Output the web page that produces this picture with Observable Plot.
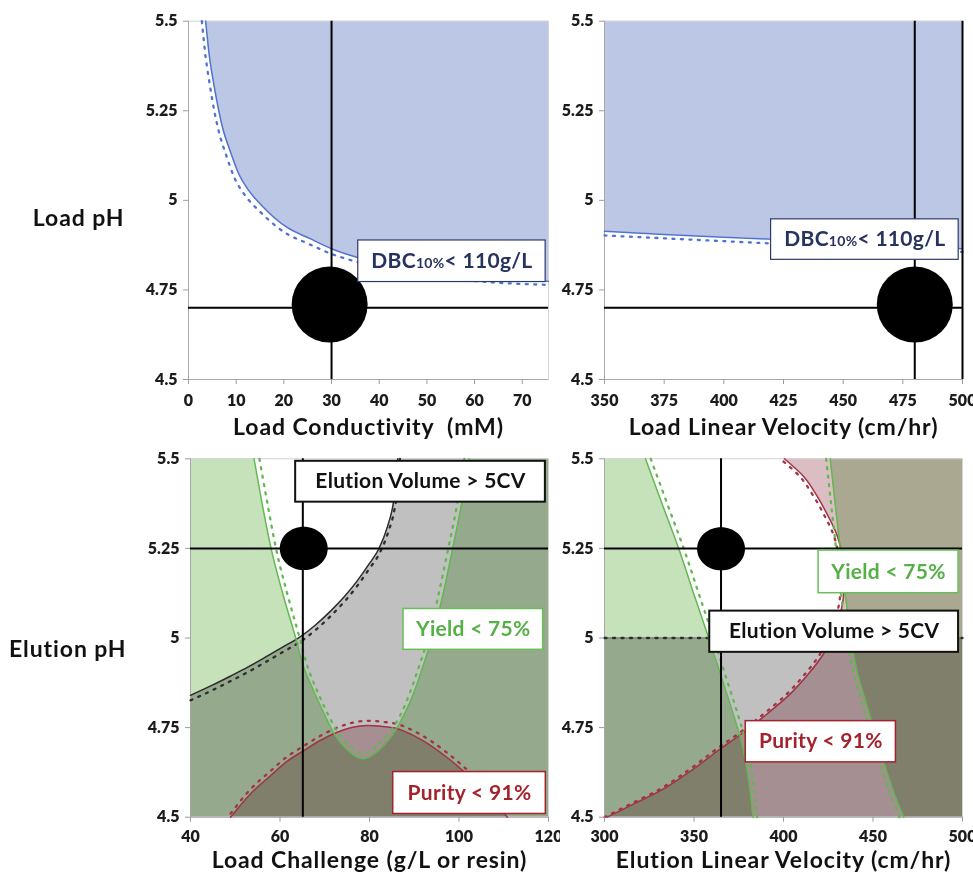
<!DOCTYPE html>
<html>
<head>
<meta charset="utf-8">
<script src="https://cdn.jsdelivr.net/npm/d3@7"></script>
<script src="https://cdn.jsdelivr.net/npm/@observablehq/plot@0.6"></script>
<style>
html,body{margin:0;padding:0;background:#fff;}
#chart{position:relative;width:973px;height:872px;overflow:hidden;background:#fff;}
#chart svg{position:absolute;}
.ttl{letter-spacing:0.9px;}
.note{letter-spacing:0.3px;}
</style>
</head>
<body>
<div id="chart"></div>
<script>
// ---------- shared ----------
const yTicks = [4.5, 4.75, 5, 5.25, 5.5];
const pHDomain = [4.5, 5.5];
const rowLabels = ["Load pH", "Elution pH"];

// ---------- Panel A: Load Conductivity ----------
const condLabel = "Load Conductivity  (mM)";
const condTicks = [0, 10, 20, 30, 40, 50, 60, 70];
const condDomain = [0, 75.5];
const dbcCondX = [3.6, 4.4, 5.3, 6.2, 7.2, 8.7, 10.5, 12.5, 15.7, 20.6, 25.5, 30, 35.3, 45, 55, 65, 75.5];
const dbcCondY = [5.5, 5.4, 5.325, 5.26, 5.2, 5.139, 5.075, 5.03, 4.981, 4.925, 4.893, 4.865, 4.841, 4.81, 4.792, 4.781, 4.774];
const dbcCondDotX = [2.8, 3.6, 4.5, 5.4, 6.4, 7.9, 9.7, 11.8, 15.1, 20.1, 25.1, 29.7, 35.1, 45, 55, 65, 75.5];
const dbcCondDotY = [5.5, 5.4, 5.32, 5.25, 5.19, 5.126, 5.061, 5.015, 4.967, 4.911, 4.879, 4.852, 4.829, 4.798, 4.781, 4.77, 4.764];
const condCrossX = [30];
const condCrossY = [4.7];
const condPoint = {x: 29.6, y: 4.709};
const condNotes = [{text: "DBC10%< 110g/L", kind: "dbc", x1: 35.6, x2: 74.9, y1: 4.772, y2: 4.888}];

// ---------- Panel B: Load Linear Velocity ----------
const lvelLabel = "Load Linear Velocity (cm/hr)";
const lvelTicks = [350, 375, 400, 425, 450, 475, 500];
const lvelDomain = [350, 500];
const dbcVelX = [350, 375, 400, 425, 450, 475, 500];
const dbcVelY = [4.914, 4.905, 4.897, 4.89, 4.882, 4.873, 4.865];
const dbcVelDotY = [4.902, 4.894, 4.886, 4.878, 4.870, 4.863, 4.856];
const lvelCrossX = [480, 500];
const lvelCrossY = [4.7];
const lvelPoint = {x: 480, y: 4.709};
const lvelNotes = [{text: "DBC10%< 110g/L", kind: "dbc", x1: 419.8, x2: 498.4, y1: 4.834, y2: 4.947}];

// ---------- Panel C: Load Challenge ----------
const chalLabel = "Load Challenge (g/L or resin)";
const chalTicks = [40, 60, 80, 100, 120];
const chalDomain = [40, 120];
const yieldChalX = [54.2, 56.0, 58.0, 60.7, 63.5, 65.0, 67.6, 70.0, 72.1, 75.3, 78.6, 81.9, 85.3, 87.7, 90.0, 92.2, 94.0, 96.4, 98.6, 100.6, 102.2];
const yieldChalY = [5.5, 5.375, 5.25, 5.12, 5.0, 4.93, 4.85, 4.785, 4.733, 4.685, 4.663, 4.685, 4.733, 4.785, 4.85, 4.93, 5.0, 5.12, 5.25, 5.375, 5.5];
const yieldChalDotX = [55.4, 57.2, 59.1, 61.7, 64.4, 65.9, 68.4, 70.8, 72.9, 75.8, 78.6, 81.4, 84.5, 86.9, 89.1, 91.3, 93.1, 95.4, 97.6, 99.6, 101.2];
const yieldChalDotY = [5.5, 5.375, 5.25, 5.12, 5.0, 4.93, 4.85, 4.785, 4.737, 4.697, 4.678, 4.697, 4.737, 4.785, 4.85, 4.93, 5.0, 5.12, 5.25, 5.375, 5.5];
const elutChalX = [40, 45, 49, 53, 56.4, 60.5, 64.6, 68, 71.3, 74.5, 77.3, 80, 82.1, 84.0, 85.3, 86.0, 86.3];
const elutChalY = [4.84, 4.869, 4.894, 4.92, 4.944, 4.974, 5.004, 5.037, 5.075, 5.117, 5.16, 5.208, 5.249, 5.31, 5.374, 5.44, 5.5];
const elutChalDotX = [40, 45, 49, 53, 56.4, 60.5, 64.6, 68, 71.3, 74.5, 77.3, 80, 82.2, 84.2, 85.6, 86.4, 86.8];
const elutChalDotY = [4.826, 4.855, 4.88, 4.906, 4.93, 4.96, 4.99, 5.023, 5.061, 5.103, 5.146, 5.194, 5.235, 5.296, 5.36, 5.428, 5.5];
const purChalX = [48.95, 53.4, 57.9, 61.5, 65.35, 69, 72.8, 76, 79.5, 83, 86.2, 90, 93.7, 97, 100.4, 103.5, 106.4, 110.8];
const purChalY = [4.5, 4.565, 4.616, 4.655, 4.686, 4.714, 4.737, 4.75, 4.756, 4.753, 4.747, 4.727, 4.7, 4.67, 4.635, 4.6, 4.565, 4.5];
const purChalDotY = [4.51, 4.578, 4.629, 4.668, 4.699, 4.727, 4.75, 4.763, 4.769, 4.766, 4.76, 4.74, 4.713, 4.683, 4.648, 4.613, 4.578, 4.512];
const chalCrossX = [65.1];
const chalCrossY = [5.25];
const chalPoint = {x: 65.3, y: 5.25};
const chalNotes = [
  {text: "Elution Volume > 5CV", kind: "elution", x1: 63.5, x2: 119.3, y1: 5.379, y2: 5.493},
  {text: "Yield < 75%", kind: "yield", x1: 87.6, x2: 118.8, y1: 4.967, y2: 5.081},
  {text: "Purity < 91%", kind: "purity", x1: 85.3, x2: 119.4, y1: 4.509, y2: 4.626}
];

// ---------- Panel D: Elution Linear Velocity ----------
const evelLabel = "Elution Linear Velocity (cm/hr)";
const evelTicks = [300, 350, 400, 450, 500];
const evelDomain = [300, 500];
const yieldAY = [5.5, 5.374, 5.249, 5.123, 5.0, 4.9, 4.798, 4.705, 4.602, 4.5];
const yieldAX = [322.9, 332.2, 341.5, 349.9, 358.2, 364.7, 371.3, 376.8, 380.6, 383.0];
const yieldADotX = [325.8, 335.1, 344.3, 352.7, 360.9, 367.3, 373.8, 379.2, 382.9, 385.3];
const yieldBY = [5.5, 5.374, 5.249, 5.123, 5.0, 4.909, 4.816, 4.723, 4.63, 4.56, 4.5];
const yieldBX = [426.1, 428.9, 431.7, 434.5, 437.7, 441.0, 446.3, 452.0, 457.5, 462.3, 467.2];
const yieldBDotX = [423.8, 426.6, 429.4, 432.2, 435.4, 438.7, 443.9, 449.6, 455.1, 459.9, 464.8];
const purEVelY = [4.5, 4.537, 4.574, 4.635, 4.691, 4.737, 4.788, 4.844, 4.9, 4.956, 5.012, 5.067, 5.123, 5.179, 5.235, 5.291, 5.347, 5.402, 5.449, 5.5];
const purEVelX = [301.5, 316.4, 331.3, 349.9, 364.8, 377.8, 390.8, 403.8, 414.0, 422.4, 428.0, 431.7, 433.6, 433.9, 432.6, 429.6, 424.2, 418.0, 411.5, 400.5];
const purEVelDotX = [300.0, 314.6, 329.4, 347.9, 362.8, 375.8, 388.9, 401.9, 412.1, 420.5, 426.1, 429.8, 431.7, 432.0, 430.7, 427.7, 422.3, 416.0, 409.4, 398.2];
const elutEVelX = [300, 500];
const elutEVelY = [5.0, 5.0];
const evelCrossX = [365.1];
const evelCrossY = [5.25];
const evelPoint = {x: 365.1, y: 5.249};
const evelNotes = [
  {text: "Yield < 75%", kind: "yield", x1: 419.6, x2: 497.8, y1: 5.125, y2: 5.244},
  {text: "Elution Volume > 5CV", kind: "elution", x1: 358.8, x2: 497.8, y1: 4.960, y2: 5.075},
  {text: "Purity < 91%", kind: "purity", x1: 378.9, x2: 462.8, y1: 4.653, y2: 4.768}
];

// ---------- styles ----------
const FONT = "Lato, 'Open Sans', sans-serif";
const fillColor = {dbc: "#bcc6e5", yield: "#c6e2bb", elution: "#c0c0c0", purity: "#dbbec4"};
const lineColor = {dbc: "#5272cf", yield: "#62b850", elution: "#2e2e2e", purity: "#a23446"};
const noteStyle = {
  dbc: {stroke: "#2c3a6b", text: "#27325f", width: 1.2},
  elution: {stroke: "#111", text: "#111", width: 2},
  yield: {stroke: "#68be58", text: "#55b046", width: 1.5},
  purity: {stroke: "#a3232d", text: "#a3232d", width: 1.5}
};

const zip = (xs, ys) => xs.map((x, i) => ({x, y: ys[i]}));

const ellipse = {
  draw(ctx, size) {
    const r = Math.sqrt(size / Math.PI), a = r * 1.11, b = r, k = 0.5523;
    ctx.moveTo(a, 0);
    ctx.bezierCurveTo(a, k * b, k * a, b, 0, b);
    ctx.bezierCurveTo(-k * a, b, -a, k * b, -a, 0);
    ctx.bezierCurveTo(-a, -k * b, -k * a, -b, 0, -b);
    ctx.bezierCurveTo(k * a, -b, a, -k * b, a, 0);
    ctx.closePath();
  }
};

function solid(data, kind, curve) {
  return Plot.line(data, {x: "x", y: "y", stroke: lineColor[kind], strokeWidth: 1.5, curve});
}
function dotted(data, kind, curve) {
  return Plot.line(data, {x: "x", y: "y", stroke: lineColor[kind], strokeWidth: 2.3, strokeDasharray: "2,6.5", curve});
}

function buildPanel(p) {
  const [x0] = p.xDomain;
  const [y0] = pHDomain;
  const marks = [...p.fills,
    Plot.frame({stroke: "#d4d4d4"}),
    Plot.ruleX([x0], {stroke: "#a8a8a8"}),
    Plot.ruleY([y0], {stroke: "#a8a8a8"}),
    ...p.lines,
    Plot.ruleX(p.crossX, {stroke: "#000", strokeWidth: 2}),
    Plot.ruleY(p.crossY, {stroke: "#000", strokeWidth: 2}),
    Plot.dot([p.point], {x: "x", y: "y", r: p.r, symbol: p.symbol, fill: "#000", stroke: "none"})
  ];
  for (const n of p.notes) {
    const s = noteStyle[n.kind];
    marks.push(Plot.rect([n], {x1: "x1", x2: "x2", y1: "y1", y2: "y2", fill: "#fff", stroke: s.stroke, strokeWidth: s.width}));
    marks.push(Plot.text([n], {x: d => (d.x1 + d.x2) / 2, y: d => (d.y1 + d.y2) / 2, text: "text",
      fill: s.text, fontSize: 21, fontWeight: "bold", fontFamily: FONT, className: "note"}));
  }
  marks.push(Plot.axisX({ticks: p.xTicks, tickSize: 5, tickPadding: p.xPad, stroke: "#9c9c9c", fill: "#1c1c1c",
    fontSize: 15, fontWeight: "bold", label: null, tickFormat: d => String(d)}));
  marks.push(Plot.axisY({ticks: yTicks, tickSize: 5, tickPadding: 6, stroke: "#9c9c9c", fill: "#1c1c1c",
    fontSize: 15, fontWeight: "bold", label: null, tickFormat: d => String(d)}));
  marks.push(Plot.text([p.xLabel], {text: d => d, frameAnchor: "bottom", dy: p.xLabelDy, fontSize: 23,
    fontWeight: "bold", fill: "#111", fontFamily: FONT, className: "ttl"}));
  if (p.rowLabel) {
    marks.push(Plot.text([p.rowLabel], {text: d => d, frameAnchor: "left", dx: p.rowDx, dy: p.rowDy,
      textAnchor: "end", fontSize: 23, fontWeight: "bold", fill: "#111", fontFamily: FONT, className: "ttl"}));
  }
  const svg = Plot.plot({
    width: p.width, height: p.height,
    marginLeft: p.ml, marginRight: p.mr, marginTop: p.mt, marginBottom: p.mb,
    x: {domain: p.xDomain},
    y: {domain: pHDomain},
    style: {fontFamily: FONT, fontSize: "15px", background: "#fff", overflow: p.overflow},
    marks
  });
  svg.style.left = p.left + "px";
  svg.style.top = p.top + "px";
  svg.style.position = "absolute";
  const ns = "http://www.w3.org/2000/svg";
  const tickStrings = new Set([...p.xTicks, ...yTicks].map(String));
  svg.querySelectorAll("text").forEach(t => {
    if (t.textContent === "DBC10%< 110g/L") {
      t.textContent = "";
      [["DBC", null], ["10%", 14], ["< 110g/L", null]].forEach(([s, fs]) => {
        const ts = document.createElementNS(ns, "tspan");
        ts.textContent = s;
        if (fs) ts.setAttribute("font-size", fs);
        t.appendChild(ts);
      });
    } else if (tickStrings.has(t.textContent)) {
      t.style.fontSize = "16px";
      t.style.fontWeight = "800";
      t.style.fontFamily = FONT;
    }
  });
  document.getElementById("chart").appendChild(svg);
}

const multiply = "multiply";

// Panel A
buildPanel({
  left: 0, top: 0, width: 560, height: 445, ml: 188, mr: 12, mt: 20.7, mb: 66, overflow: "hidden",
  xDomain: condDomain, xTicks: condTicks, xPad: 10, xLabel: condLabel, xLabelDy: 55,
  rowLabel: rowLabels[0], rowDx: -64, rowDy: 18,
  fills: [Plot.areaY(zip(dbcCondX, dbcCondY), {x: "x", y1: "y", y2: () => pHDomain[1], fill: fillColor.dbc, curve: "monotone-x", mixBlendMode: multiply})],
  lines: [solid(zip(dbcCondX, dbcCondY), "dbc", "monotone-x"), dotted(zip(dbcCondDotX, dbcCondDotY), "dbc", "monotone-x")],
  crossX: condCrossX, crossY: condCrossY, point: condPoint, r: 38, notes: condNotes
});

// Panel B
buildPanel({
  left: 560, top: 0, width: 413, height: 445, ml: 44, mr: 11, mt: 20.7, mb: 66, overflow: "visible",
  xDomain: lvelDomain, xTicks: lvelTicks, xPad: 10, xLabel: lvelLabel, xLabelDy: 55,
  fills: [Plot.areaY(zip(dbcVelX, dbcVelY), {x: "x", y1: "y", y2: () => pHDomain[1], fill: fillColor.dbc, curve: "monotone-x", mixBlendMode: multiply})],
  lines: [solid(zip(dbcVelX, dbcVelY), "dbc", "monotone-x"), dotted(zip(dbcVelX, dbcVelDotY), "dbc", "monotone-x")],
  crossX: lvelCrossX, crossY: lvelCrossY, point: lvelPoint, r: 38, notes: lvelNotes
});

// Panel C
const yc = zip(yieldChalX, yieldChalY);
const ec = zip(elutChalX, elutChalY);
const pc = zip(purChalX, purChalY);
buildPanel({
  left: 0, top: 445, width: 560, height: 427, ml: 190, mr: 12, mt: 13.3, mb: 55.3, overflow: "hidden",
  xDomain: chalDomain, xTicks: chalTicks, xPad: 8, xLabel: chalLabel, xLabelDy: 51,
  rowLabel: rowLabels[1], rowDx: -64, rowDy: 11.5,
  fills: [
    Plot.rect([0], {x1: () => chalDomain[0], x2: () => yieldChalX[0], y1: () => pHDomain[0], y2: () => pHDomain[1], fill: fillColor.yield, mixBlendMode: multiply}),
    Plot.areaY(yc, {x: "x", y1: () => pHDomain[0], y2: "y", fill: fillColor.yield, curve: "monotone-x", mixBlendMode: multiply}),
    Plot.rect([0], {x1: () => yieldChalX[yieldChalX.length - 1], x2: () => chalDomain[1], y1: () => pHDomain[0], y2: () => pHDomain[1], fill: fillColor.yield, mixBlendMode: multiply}),
    Plot.areaY(ec, {x: "x", y1: () => pHDomain[0], y2: "y", fill: fillColor.elution, curve: "monotone-x", mixBlendMode: multiply}),
    Plot.rect([0], {x1: () => elutChalX[elutChalX.length - 1], x2: () => chalDomain[1], y1: () => pHDomain[0], y2: () => pHDomain[1], fill: fillColor.elution, mixBlendMode: multiply}),
    Plot.areaY(pc, {x: "x", y1: () => pHDomain[0], y2: "y", fill: fillColor.purity, curve: "monotone-x", mixBlendMode: multiply})
  ],
  lines: [
    solid(ec, "elution", "monotone-x"), dotted(zip(elutChalDotX, elutChalDotY), "elution", "monotone-x"),
    solid(pc, "purity", "monotone-x"), dotted(zip(purChalX, purChalDotY), "purity", "monotone-x"),
    solid(yc, "yield", "monotone-x"), dotted(zip(yieldChalDotX, yieldChalDotY), "yield", "monotone-x")
  ],
  crossX: chalCrossX, crossY: chalCrossY, point: chalPoint, r: 21.6, symbol: ellipse, notes: chalNotes
});

// Panel D
const ya = zip(yieldAX, yieldAY);
const yb = zip(yieldBX, yieldBY);
const pe = zip(purEVelX, purEVelY);
const ee = zip(elutEVelX, elutEVelY);
buildPanel({
  left: 560, top: 445, width: 413, height: 427, ml: 44, mr: 11, mt: 13.3, mb: 55.3, overflow: "visible",
  xDomain: evelDomain, xTicks: evelTicks, xPad: 8, xLabel: evelLabel, xLabelDy: 51,
  fills: [
    Plot.areaX(ya, {y: "y", x1: () => evelDomain[0], x2: "x", fill: fillColor.yield, curve: "monotone-y", mixBlendMode: multiply}),
    Plot.areaX(yb, {y: "y", x1: "x", x2: () => evelDomain[1], fill: fillColor.yield, curve: "monotone-y", mixBlendMode: multiply}),
    Plot.areaY(ee, {x: "x", y1: () => pHDomain[0], y2: "y", fill: fillColor.elution, mixBlendMode: multiply}),
    Plot.areaX(pe, {y: "y", x1: "x", x2: () => evelDomain[1], fill: fillColor.purity, curve: "monotone-y", mixBlendMode: multiply})
  ],
  lines: [
    Plot.line(ee, {x: "x", y: "y", stroke: "#6a6a6a", strokeWidth: 1}),
    dotted(ee, "elution", "linear"),
    solid(pe, "purity", "monotone-y"), dotted(zip(purEVelDotX, purEVelY), "purity", "monotone-y"),
    solid(ya, "yield", "monotone-y"), dotted(zip(yieldADotX, yieldAY), "yield", "monotone-y"),
    solid(yb, "yield", "monotone-y"), dotted(zip(yieldBDotX, yieldBY), "yield", "monotone-y")
  ],
  crossX: evelCrossX, crossY: evelCrossY, point: evelPoint, r: 21.6, symbol: ellipse, notes: evelNotes
});
</script>
</body>
</html>
